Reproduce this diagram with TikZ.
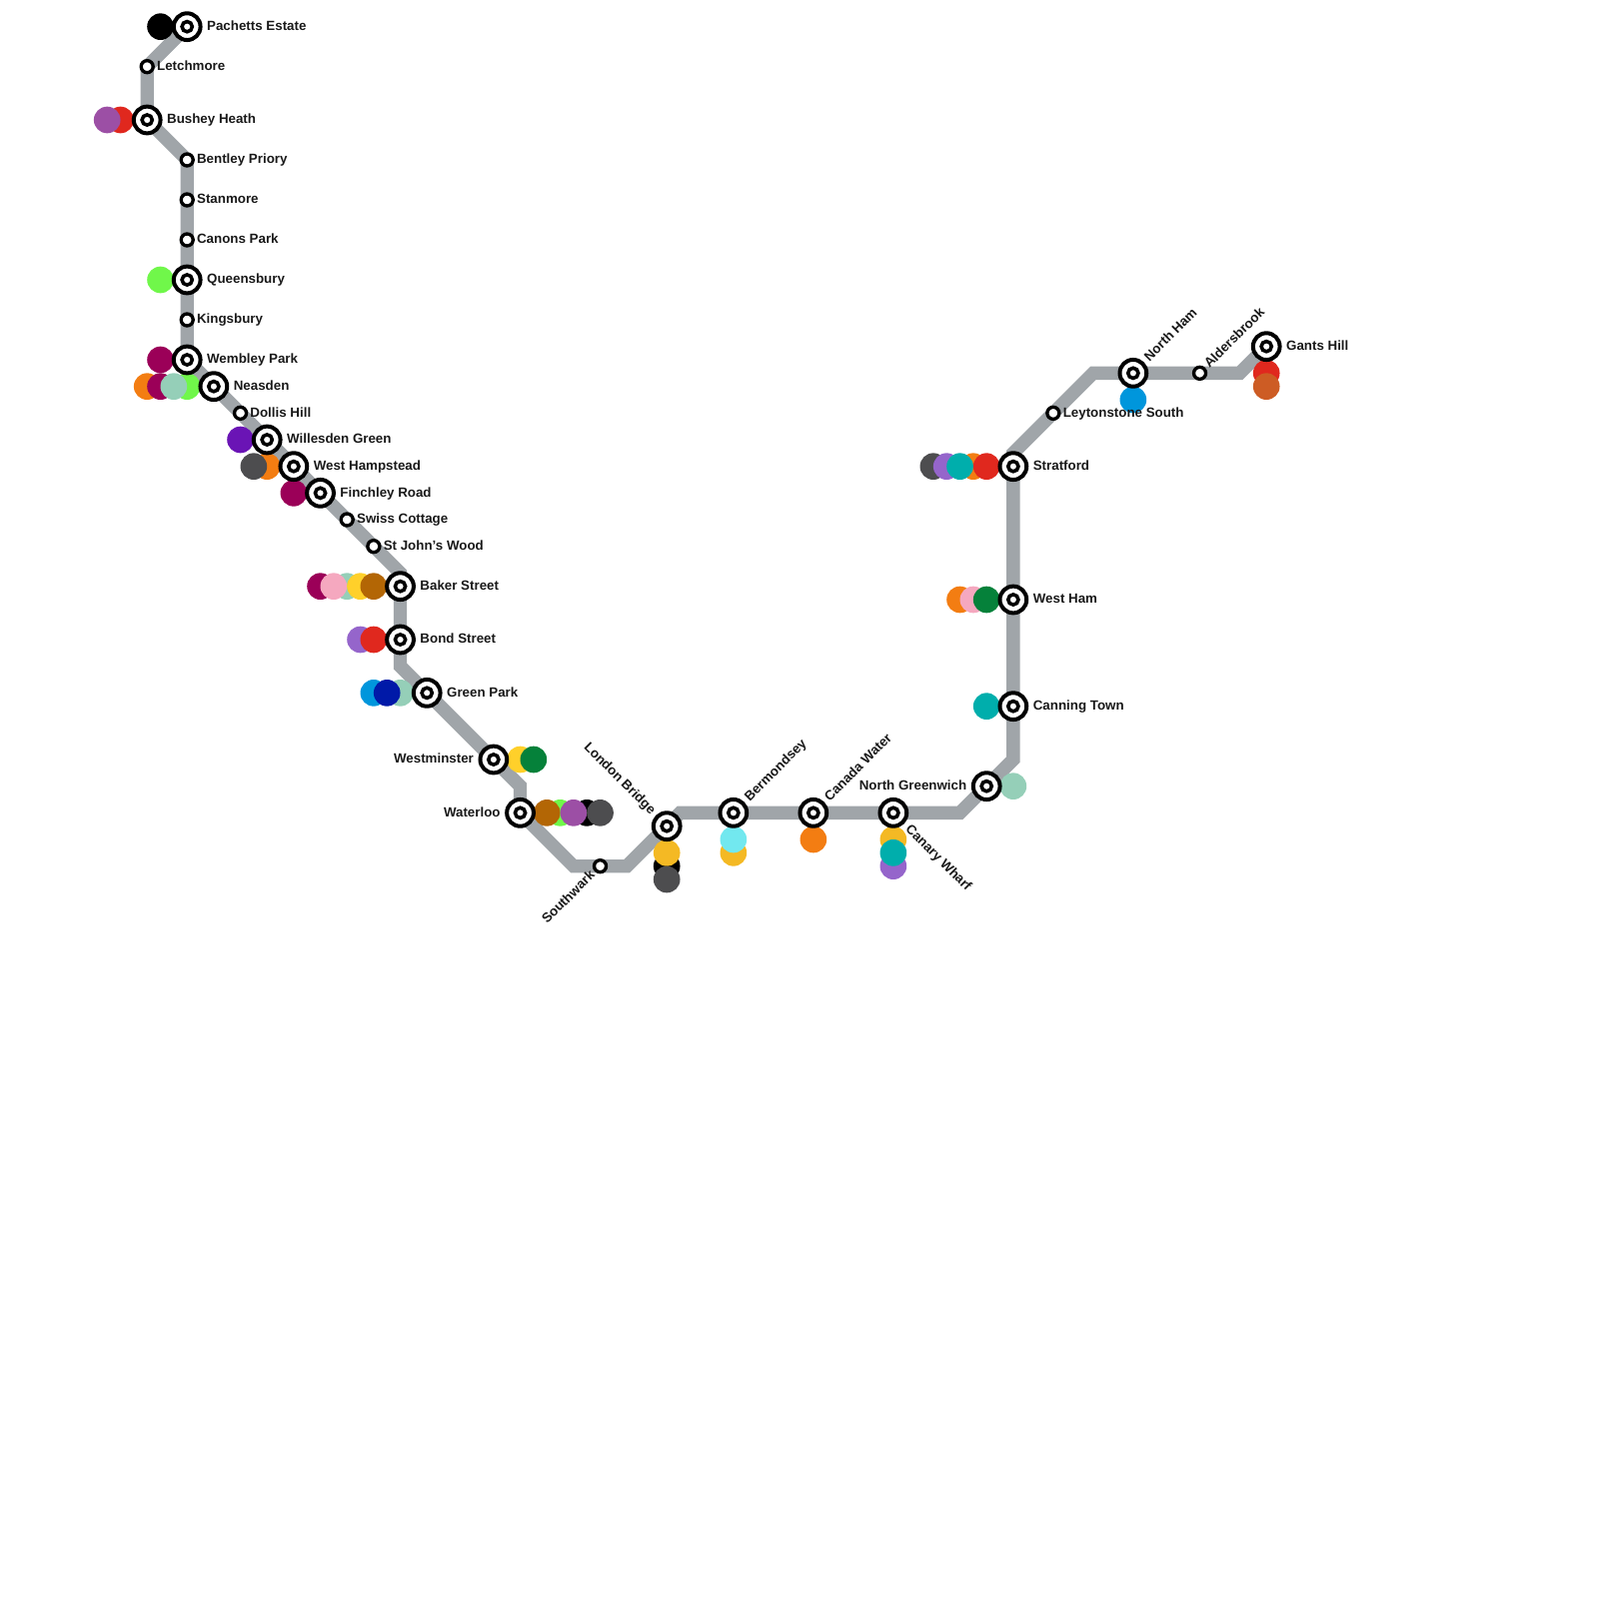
\documentclass[tikz,border=0pt]{standalone}
\usepackage{fontspec}
\setmainfont{Liberation Sans}
\usetikzlibrary{positioning, backgrounds}

\definecolor{routegray}{HTML}{A0A5A9}
\definecolor{plum}{HTML}{9B0058}
\definecolor{signalred}{HTML}{E0281E}
\definecolor{mauve}{HTML}{9C4FA5}
\definecolor{lime}{HTML}{70F74A}
\definecolor{tangerine}{HTML}{F37D12}
\definecolor{seafoam}{HTML}{95CFB8}
\definecolor{violet}{HTML}{6A14B5}
\definecolor{charcoal}{HTML}{4D4D4F}
\definecolor{rose}{HTML}{F5A8BF}
\definecolor{sun}{HTML}{FFD02A}
\definecolor{ochre}{HTML}{B36605}
\definecolor{lilac}{HTML}{9565CB}
\definecolor{skyblue}{HTML}{0096DC}
\definecolor{navy}{HTML}{0019A8}
\definecolor{forest}{HTML}{05813A}
\definecolor{amber}{HTML}{F4B924}
\definecolor{ice}{HTML}{72E8EF}
\definecolor{teal}{HTML}{00AEAC}
\definecolor{rust}{HTML}{CD5C24}

\tikzset{
    route/.style={draw=routegray, line width=3mm, line join=miter},
    colordot/.style={circle, minimum size=6mm, inner sep=0pt, outer sep=0pt},
    halt/.style={circle, draw=black, fill=white, line width=.75mm, minimum size=2.7mm, inner sep=0pt, outer sep=0pt},
    hub/.style={circle, draw=black, fill=white, line width=.9mm, minimum size=6.02mm, inner sep=0pt, outer sep=0pt,
        path picture={\draw[black, line width=.8mm] (path picture bounding box.center) circle (1.15mm);}},
    stopname/.style={font=\fontsize{8.54pt}{10pt}\selectfont\bfseries, text=black!90, inner sep=0pt, outer sep=0pt, text height=4.9pt, text depth=0pt}
}

\begin{document}
\begin{tikzpicture}[x=3mm, y=-3mm, node distance=4.2pt]
    \useasboundingbox (-0.04,0) rectangle (119.96,120);

    % stations
    \node (PachettsEstate) [hub] at (14,2) {};
    \node (Letchmore) [halt] at (11,5) {};
    \node (BusheyHeath) [hub] at (11,9) {};
    \node (BentleyPriory) [halt] at (14,12) {};
    \node (Stanmore) [halt] at (14,15) {};
    \node (CanonsPark) [halt] at (14,18) {};
    \node (Queensbury) [hub] at (14,21) {};
    \node (Kingsbury) [halt] at (14,24) {};
    \node (WembleyPark) [hub] at (14,27) {};
    \node (Neasden) [hub] at (16,29) {};
    \node (DollisHill) [halt] at (18,31) {};
    \node (WillesdenGreen) [hub] at (20,33) {};
    \node (WestHampstead) [hub] at (22,35) {};
    \node (FinchleyRoad) [hub] at (24,37) {};
    \node (SwissCottage) [halt] at (26,39) {};
    \node (StJohnsWood) [halt] at (28,41) {};
    \node (BakerStreet) [hub] at (30,44) {};
    \node (BondStreet) [hub] at (30,48) {};
    \node (GreenPark) [hub] at (32,52) {};
    \node (Westminster) [hub] at (37,57) {};
    \node (Waterloo) [hub] at (39,61) {};
    \node (Southwark) [halt] at (45,65) {};
    \node (LondonBridge) [hub] at (50,62) {};
    \node (Bermondsey) [hub] at (55,61) {};
    \node (CanadaWater) [hub] at (61,61) {};
    \node (CanaryWharf) [hub] at (67,61) {};
    \node (NorthGreenwich) [hub] at (74,59) {};
    \node (CanningTown) [hub] at (76,53) {};
    \node (WestHam) [hub] at (76,45) {};
    \node (Stratford) [hub] at (76,35) {};
    \node (LeytonstoneSouth) [halt] at (79,31) {};
    \node (NorthHam) [hub] at (85,28) {};
    \node (Aldersbrook) [halt] at (90,28) {};
    \node (GantsHill) [hub] at (95,26) {};

    % bends of the line
    \coordinate (BendC) at (30,43);
    \coordinate (BendD) at (30,50);
    \coordinate (BendE) at (39,59);
    \coordinate (BendF) at (43,65);
    \coordinate (BendG) at (47,65);
    \coordinate (BendH) at (51,61);
    \coordinate (BendI) at (72,61);
    \coordinate (BendJ) at (76,57);
    \coordinate (BendM) at (76,34);
    \coordinate (BendK) at (82,28);
    \coordinate (BendL) at (93,28);

    \begin{scope}[on background layer]
        \draw[route] (PachettsEstate.center) -- (Letchmore.center) -- (BusheyHeath.center) -- (BentleyPriory.center)
            -- (Stanmore.center) -- (CanonsPark.center) -- (Queensbury.center) -- (Kingsbury.center) -- (WembleyPark.center)
            -- (Neasden.center) -- (DollisHill.center) -- (WillesdenGreen.center) -- (WestHampstead.center)
            -- (FinchleyRoad.center) -- (SwissCottage.center) -- (StJohnsWood.center) -- (BendC) -- (BakerStreet.center)
            -- (BondStreet.center) -- (BendD) -- (GreenPark.center) -- (Westminster.center) -- (BendE) -- (Waterloo.center)
            -- (BendF) -- (Southwark.center) -- (BendG) -- (LondonBridge.center) -- (BendH) -- (Bermondsey.center)
            -- (CanadaWater.center) -- (CanaryWharf.center) -- (BendI) -- (NorthGreenwich.center) -- (BendJ)
            -- (CanningTown.center) -- (WestHam.center) -- (Stratford.center) -- (BendM) -- (LeytonstoneSouth.center) -- (BendK)
            -- (NorthHam.center) -- (Aldersbrook.center) -- (BendL) -- (GantsHill.center);

        % interchange colours
        \node (PachettsBlack) [colordot, fill=black] at (12,2) {};
        \node (BusheyRed) [colordot, fill=signalred] at (9,9) {};
        \node (BusheyMauve) [colordot, fill=mauve] at (8,9) {};
        \node (QueensburyLime) [colordot, fill=lime] at (12,21) {};
        \node (WembleyPlum) [colordot, fill=plum] at (12,27) {};
        \node (NeasdenOrange) [colordot, fill=tangerine] at (11,29) {};
        \node (NeasdenPlum) [colordot, fill=plum] at (12,29) {};
        \node (NeasdenLime) [colordot, fill=lime] at (14,29) {};
        \node (NeasdenFoam) [colordot, fill=seafoam] at (13,29) {};
        \node (WillesdenViolet) [colordot, fill=violet] at (18,33) {};
        \node (HampsteadOrange) [colordot, fill=tangerine] at (20,35) {};
        \node (HampsteadGray) [colordot, fill=charcoal] at (19,35) {};
        \node (FinchleyPlum) [colordot, fill=plum] at (22,37) {};
        \node (BakerPlum) [colordot, fill=plum] at (24,44) {};
        \node (BakerFoam) [colordot, fill=seafoam] at (26,44) {};
        \node (BakerRose) [colordot, fill=rose] at (25,44) {};
        \node (BakerSun) [colordot, fill=sun] at (27,44) {};
        \node (BakerOchre) [colordot, fill=ochre] at (28,44) {};
        \node (BondLilac) [colordot, fill=lilac] at (27,48) {};
        \node (BondRed) [colordot, fill=signalred] at (28,48) {};
        \node (GreenBlue) [colordot, fill=skyblue] at (28,52) {};
        \node (GreenFoam) [colordot, fill=seafoam] at (30,52) {};
        \node (GreenNavy) [colordot, fill=navy] at (29,52) {};
        \node (WestminsterSun) [colordot, fill=sun] at (39,57) {};
        \node (WestminsterForest) [colordot, fill=forest] at (40,57) {};
        \node (WaterlooLime) [colordot, fill=lime] at (42,61) {};
        \node (WaterlooOchre) [colordot, fill=ochre] at (41,61) {};
        \node (WaterlooBlack) [colordot, fill=black] at (44,61) {};
        \node (WaterlooMauve) [colordot, fill=mauve] at (43,61) {};
        \node (WaterlooGray) [colordot, fill=charcoal] at (45,61) {};
        \node (BridgeBlack) [colordot, fill=black] at (50,65) {};
        \node (BridgeAmber) [colordot, fill=amber] at (50,64) {};
        \node (BridgeGray) [colordot, fill=charcoal] at (50,66) {};
        \node (BermondseyAmber) [colordot, fill=amber] at (55,64) {};
        \node (BermondseyIce) [colordot, fill=ice] at (55,63) {};
        \node (CanadaOrange) [colordot, fill=tangerine] at (61,63) {};
        \node (CanaryAmber) [colordot, fill=amber] at (67,63) {};
        \node (CanaryLilac) [colordot, fill=lilac] at (67,65) {};
        \node (CanaryTeal) [colordot, fill=teal] at (67,64) {};
        \node (GreenwichFoam) [colordot, fill=seafoam] at (76,59) {};
        \node (CanningTeal) [colordot, fill=teal] at (74,53) {};
        \node (WestHamOrange) [colordot, fill=tangerine] at (72,45) {};
        \node (WestHamRose) [colordot, fill=rose] at (73,45) {};
        \node (WestHamForest) [colordot, fill=forest] at (74,45) {};
        \node (StratfordGray) [colordot, fill=charcoal] at (70,35) {};
        \node (StratfordLilac) [colordot, fill=lilac] at (71,35) {};
        \node (StratfordOrange) [colordot, fill=tangerine] at (73,35) {};
        \node (StratfordTeal) [colordot, fill=teal] at (72,35) {};
        \node (StratfordRed) [colordot, fill=signalred] at (74,35) {};
        \node (NorthHamBlue) [colordot, fill=skyblue] at (85,30) {};
        \node (GantsRed) [colordot, fill=signalred] at (95,28) {};
        \node (GantsRust) [colordot, fill=rust] at (95,29) {};
    \end{scope}

    % names
    \node (PachettsEstateName) [stopname, right=of PachettsEstate] {Pachetts Estate};
    \node (LetchmoreName) [stopname, right=2.5pt of Letchmore] {Letchmore};
    \node (BusheyHeathName) [stopname, right=of BusheyHeath] {Bushey Heath};
    \node (BentleyPrioryName) [stopname, right=2.5pt of BentleyPriory] {Bentley Priory};
    \node (StanmoreName) [stopname, right=2.5pt of Stanmore] {Stanmore};
    \node (CanonsParkName) [stopname, right=2.5pt of CanonsPark] {Canons Park};
    \node (QueensburyName) [stopname, right=of Queensbury] {Queensbury};
    \node (KingsburyName) [stopname, right=2.5pt of Kingsbury] {Kingsbury};
    \node (WembleyParkName) [stopname, right=of WembleyPark] {Wembley Park};
    \node (NeasdenName) [stopname, right=of Neasden] {Neasden};
    \node (DollisHillName) [stopname, right=2.5pt of DollisHill] {Dollis Hill};
    \node (WillesdenGreenName) [stopname, right=of WillesdenGreen] {Willesden Green};
    \node (WestHampsteadName) [stopname, right=of WestHampstead] {West Hampstead};
    \node (FinchleyRoadName) [stopname, right=of FinchleyRoad] {Finchley Road};
    \node (SwissCottageName) [stopname, right=2.5pt of SwissCottage] {Swiss Cottage};
    \node (StJohnsWoodName) [stopname, right=2.5pt of StJohnsWood] {St John’s Wood};
    \node (BakerStreetName) [stopname, right=of BakerStreet] {Baker Street};
    \node (BondStreetName) [stopname, right=of BondStreet] {Bond Street};
    \node (GreenParkName) [stopname, right=of GreenPark] {Green Park};
    \node (WestminsterName) [stopname, left=of Westminster] {Westminster};
    \node (WaterlooName) [stopname, left=of Waterloo] {Waterloo};
    \node (SouthwarkName) [stopname, rotate=45, below left=2pt and 2pt of Southwark.225, anchor=east] {Southwark};
    \node (LondonBridgeName) [stopname, rotate=-45, above left=2.7pt and 2.7pt of LondonBridge.135, anchor=east] {London Bridge};
    \node (BermondseyName) [stopname, rotate=45, above right=2.8pt and 2.8pt of Bermondsey.45, anchor=west] {Bermondsey};
    \node (CanadaWaterName) [stopname, rotate=45, above right=2.8pt and 2.8pt of CanadaWater.45, anchor=west] {Canada Water};
    \node (CanaryWharfName) [stopname, rotate=-45, below right=3.2pt and 3.2pt of CanaryWharf.315, anchor=west] {Canary Wharf};
    \node (NorthGreenwichName) [stopname, left=of NorthGreenwich] {North Greenwich};
    \node (CanningTownName) [stopname, right=of CanningTown] {Canning Town};
    \node (WestHamName) [stopname, right=of WestHam] {West Ham};
    \node (StratfordName) [stopname, right=of Stratford] {Stratford};
    \node (LeytonstoneSouthName) [stopname, right=2.5pt of LeytonstoneSouth] {Leytonstone South};
    \node (NorthHamName) [stopname, rotate=45, above right=2.8pt and 2.8pt of NorthHam.45, anchor=west] {North Ham};
    \node (AldersbrookName) [stopname, rotate=45, above right=1.9pt and 1.9pt of Aldersbrook.45, anchor=west] {Aldersbrook};
    \node (GantsHillName) [stopname, right=of GantsHill] {Gants Hill};
\end{tikzpicture}
\end{document}
